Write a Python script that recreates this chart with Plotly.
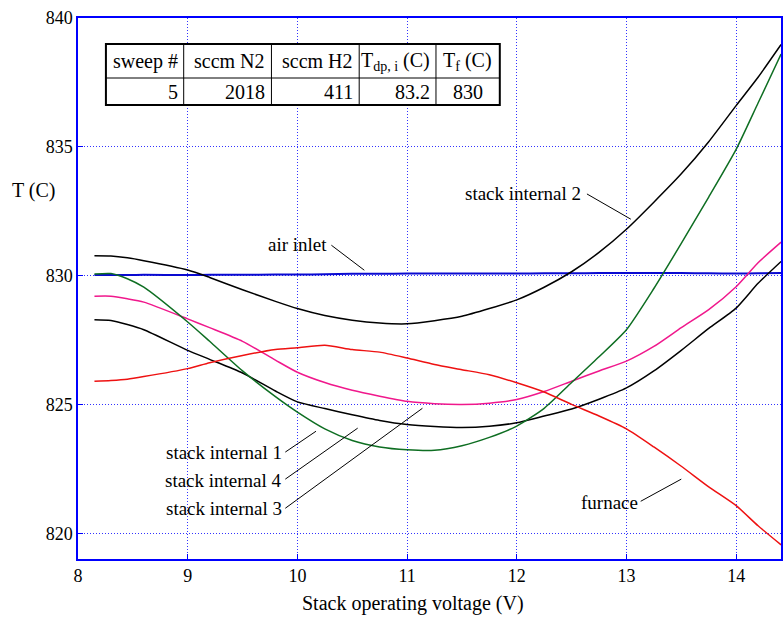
import plotly.graph_objects as go

# ---------------- data ----------------
voltage = [8.15, 8.3, 8.45, 8.6, 9.0, 9.2, 9.5, 9.8, 10.0, 10.25, 10.5, 10.75, 11.0, 11.25,
           11.5, 11.75, 12.0, 12.25, 12.5, 12.75, 13.0, 13.25, 13.5, 13.75, 14.0, 14.2, 14.41]

stack_internal_2 = [830.77, 830.76, 830.69, 830.58, 830.22, 829.93, 829.45, 829.0, 828.72, 828.45,
                    828.27, 828.16, 828.13, 828.25, 828.42, 828.72, 829.06, 829.55, 830.15,
                    830.9, 831.8, 832.85, 833.95, 835.2, 836.6, 837.7, 838.97]
air_inlet = [830.02, 830.02, 830.02, 830.03, 830.02, 830.03, 830.03, 830.04, 830.04, 830.05,
             830.07, 830.07, 830.08, 830.08, 830.08, 830.08, 830.08, 830.09, 830.09, 830.1,
             830.1, 830.1, 830.1, 830.09, 830.08, 830.09, 830.1]
stack_internal_1 = [828.29, 828.26, 828.1, 827.9, 827.1, 826.75, 826.22, 825.52, 825.1, 824.84,
                    824.6, 824.38, 824.22, 824.14, 824.1, 824.15, 824.29, 824.55, 824.82, 825.2,
                    825.64, 826.3, 827.1, 827.95, 828.74, 829.7, 830.55]
stack_internal_3 = [829.2, 829.2, 829.1, 828.97, 828.32, 827.98, 827.45, 826.72, 826.25, 825.85,
                    825.55, 825.32, 825.12, 825.03, 825.0, 825.05, 825.19, 825.5, 825.9, 826.3,
                    826.68, 827.25, 827.98, 828.68, 829.57, 830.5, 831.3]
stack_internal_4 = [830.06, 830.08, 829.88, 829.55, 828.2, 827.45, 826.3, 825.3, 824.7, 824.05,
                    823.6, 823.35, 823.24, 823.22, 823.4, 823.72, 824.16, 824.85, 825.85, 826.85,
                    827.9, 829.5, 831.25, 833.05, 834.9, 836.7, 838.6]
furnace = [825.9, 825.93, 825.98, 826.08, 826.39, 826.62, 826.9, 827.13, 827.2, 827.3, 827.13,
           827.03, 826.8, 826.55, 826.35, 826.15, 825.84, 825.48, 825.0, 824.55, 824.05, 823.35,
           822.6, 821.8, 821.07, 820.29, 819.55]

x_ticks = [8, 9, 10, 11, 12, 13, 14]
y_ticks = [820, 825, 830, 835, 840]

table_header = ["sweep #", "sccm N2", "sccm H2", "T<sub>dp, i</sub> (C)", "T<sub>f</sub> (C)"]
table_values = ["5", "2018", "411", "83.2", "830"]

# label text, text anchor (x, y), leader line from (x0, y0) to tip (x1, y1)
labels = [
    ("stack internal 2", 12.6, 833.2, 12.64, 833.17, 13.04, 832.19),
    ("air inlet", 10.29, 831.2, 10.31, 831.18, 10.61, 830.21),
    ("stack internal 1", 9.88, 823.15, 9.89, 823.15, 10.17, 823.96),
    ("stack internal 4", 9.88, 822.05, 9.89, 822.10, 10.55, 824.08),
    ("stack internal 3", 9.88, 820.95, 9.89, 820.97, 11.14, 824.85),
    ("furnace", 13.12, 821.2, 13.13, 821.24, 13.5, 822.10),
]

series = [
    ("air inlet", air_inlet, "#0a0ad0", 2),
    ("stack internal 2", stack_internal_2, "#000000", 1.5),
    ("stack internal 1", stack_internal_1, "#000000", 1.5),
    ("stack internal 3", stack_internal_3, "#f0188c", 1.5),
    ("stack internal 4", stack_internal_4, "#0e6e22", 1.5),
    ("furnace", furnace, "#ee1111", 1.5),
]

FONT = "Liberation Serif, Times New Roman, serif"
W, H = 783, 620
ML, MR, MT, MB = 78, 0, 18, 61
PW, PH = W - ML - MR, H - MT - MB


def px_x(px):
    return (px - ML) / PW


def px_y(py):
    return (H - MB - py) / PH


fig = go.Figure()
for name, ys, color, width in series:
    fig.add_trace(go.Scatter(x=voltage, y=ys, mode="lines", name=name,
                             line=dict(color=color, width=width, shape="spline", smoothing=0.6),
                             showlegend=False))

annotations = []
shapes = []
for text, tx, ty, x0, y0, x1, y1 in labels:
    annotations.append(dict(x=tx, y=ty, xref="x", yref="y", text=text, showarrow=False,
                            xanchor="right", yanchor="middle",
                            font=dict(family=FONT, size=19, color="black")))
    shapes.append(dict(type="line", xref="x", yref="y", x0=x0, y0=y0, x1=x1, y1=y1,
                       line=dict(color="black", width=1)))

# axis titles
annotations.append(dict(x=px_x(414), y=px_y(603), xref="paper", yref="paper",
                        text="Stack operating voltage (V)", showarrow=False,
                        xanchor="center", yanchor="middle",
                        font=dict(family=FONT, size=20, color="black")))
annotations.append(dict(x=px_x(10), y=px_y(190), xref="paper", yref="paper",
                        text="T (C)", showarrow=False, xanchor="left", yanchor="middle",
                        font=dict(family=FONT, size=20, color="black")))

# table
col_edges = [106, 184, 272, 360, 437, 501]
row_edges = [44, 78, 105]
shapes.append(dict(type="rect", xref="paper", yref="paper",
                   x0=px_x(col_edges[0]), x1=px_x(col_edges[-1]),
                   y0=px_y(row_edges[-1]), y1=px_y(row_edges[0]),
                   fillcolor="white", line=dict(color="black", width=2), layer="above"))
for cx in col_edges[1:-1]:
    shapes.append(dict(type="line", xref="paper", yref="paper",
                       x0=px_x(cx), x1=px_x(cx), y0=px_y(row_edges[-1]), y1=px_y(row_edges[0]),
                       line=dict(color="black", width=1), layer="above"))
shapes.append(dict(type="line", xref="paper", yref="paper",
                   x0=px_x(col_edges[0]), x1=px_x(col_edges[-1]),
                   y0=px_y(row_edges[1]), y1=px_y(row_edges[1]),
                   line=dict(color="black", width=1), layer="above"))
for i, (hdr, val) in enumerate(zip(table_header, table_values)):
    last = i == len(table_header) - 1
    if last:
        xpos = (col_edges[i] + col_edges[i + 1]) / 2
        anchor = "center"
    else:
        xpos = col_edges[i + 1] - 4
        anchor = "right"
    annotations.append(dict(x=px_x(xpos), y=px_y((row_edges[0] + row_edges[1]) / 2),
                            xref="paper", yref="paper", text=hdr, showarrow=False,
                            xanchor=anchor, yanchor="middle",
                            font=dict(family=FONT, size=20, color="black")))
    annotations.append(dict(x=px_x(xpos), y=px_y((row_edges[1] + row_edges[2]) / 2),
                            xref="paper", yref="paper", text=val, showarrow=False,
                            xanchor=anchor, yanchor="middle",
                            font=dict(family=FONT, size=20, color="black")))

axis_common = dict(showline=True, linecolor="#0000ff", linewidth=1.5, mirror=True,
                   ticks="inside", ticklen=5, tickcolor="#0000ff",
                   showgrid=True, gridcolor="rgba(0,0,255,0.8)", griddash="1px,2px", gridwidth=1,
                   zeroline=False, tickfont=dict(family=FONT, size=18, color="black"))

fig.update_layout(
    width=W, height=H,
    margin=dict(l=ML, r=MR, t=MT, b=MB),
    plot_bgcolor="white", paper_bgcolor="white",
    xaxis=dict(range=[8, 8 + PW / 110.0], tickvals=x_ticks, **axis_common),
    yaxis=dict(range=[819, 840], tickvals=y_ticks, **axis_common),
    annotations=annotations, shapes=shapes,
)

fig.write_html("out.html")
